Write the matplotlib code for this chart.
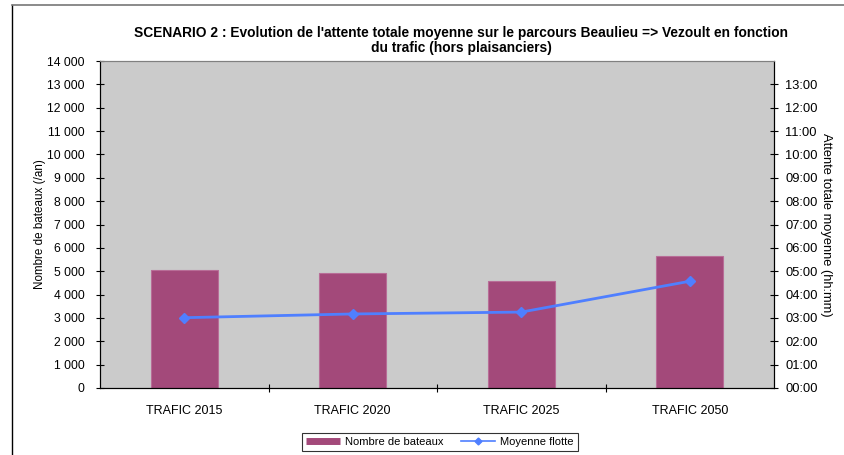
import matplotlib
matplotlib.use("Agg")
import matplotlib.pyplot as plt
from matplotlib.ticker import FuncFormatter, MultipleLocator
from matplotlib.lines import Line2D

plt.rcParams['font.family'] = ['Liberation Sans', 'DejaVu Sans']

# données
categories = ["TRAFIC 2015", "TRAFIC 2020", "TRAFIC 2025", "TRAFIC 2050"]
nb_bateaux = [5050, 4910, 4590, 5640]
attente_h = [3.01, 3.17, 3.25, 4.57]  # heures

bar_color = "#A3497A"
line_color = "#4F7FFF"

fig = plt.figure(figsize=(8.45, 4.55), dpi=100)
ax = fig.add_axes([100 / 845, 67 / 455, 674 / 845, 327 / 455])
ax.set_facecolor("#CBCBCB")

x = list(range(len(categories)))
ax.bar(x, nb_bateaux, width=0.4, color=bar_color, edgecolor="#B86D97", linewidth=0.8,
       zorder=2, label="Nombre de bateaux")
ax.set_xlim(-0.5, len(categories) - 0.5)
ax.set_ylim(0, 14000)
ax.yaxis.set_major_locator(MultipleLocator(1000))
ax.yaxis.set_major_formatter(FuncFormatter(lambda v, p: f"{int(v):,}".replace(",", " ")))
ax.set_xticks(x)
ax.set_xticklabels(categories, fontsize=9)
ax.set_xticks([i + 0.5 for i in x[:-1]], minor=True)
ax.tick_params(axis="x", which="major", length=0, pad=12)
ax.tick_params(axis="x", which="minor", direction="inout", length=6, width=0.8)
ax.tick_params(axis="y", direction="inout", length=6, width=0.8, labelsize=8.7, pad=8)
ax.set_ylabel("Nombre de bateaux (/an)", fontsize=8.4, labelpad=1)

ax2 = ax.twinx()
ax2.plot(x, attente_h, color=line_color, linewidth=2, marker="D", markersize=5,
         zorder=3, label="Moyenne flotte")
ax2.set_ylim(0, 14)
ax2.set_yticks(range(0, 14))
ax2.yaxis.set_major_formatter(FuncFormatter(lambda v, p: f"{int(v):02d}:00"))
ax2.tick_params(axis="y", direction="inout", length=6, width=0.8, labelsize=9.3, pad=5)
ax2.set_ylabel("Attente totale moyenne (hh:mm)", fontsize=9.3, rotation=-90, labelpad=10)

for a in (ax, ax2):
    a.spines["top"].set_color("#808080")
    a.spines["left"].set_color("black")
    a.spines["right"].set_color("black")
    a.spines["bottom"].set_color("black")

fig.text(461 / 845, 1 - 33 / 455,
         "SCENARIO 2 : Evolution de l'attente totale moyenne sur le parcours Beaulieu => Vezoult en fonction",
         ha="center", va="center", fontsize=9.9, fontweight="bold")
fig.text(461 / 845, 1 - 48 / 455, "du trafic (hors plaisanciers)",
         ha="center", va="center", fontsize=9.9, fontweight="bold")

handles = [Line2D([0], [0], color=bar_color, linewidth=5, solid_capstyle="butt"),
           Line2D([0], [0], color=line_color, linewidth=1.2, marker="D", markersize=3.5)]
leg = fig.legend(handles, ["Nombre de bateaux", "Moyenne flotte"], loc="center",
                 bbox_to_anchor=(440 / 845, 1 - 442 / 455), ncol=2, fontsize=8,
                 frameon=True, fancybox=False, edgecolor="black", handlelength=3.0,
                 columnspacing=1.6, borderpad=0.35, handletextpad=0.5)
leg.get_frame().set_linewidth(0.8)

# cadre du graphique
fig.add_artist(Line2D([12 / 845, 12 / 845], [0, 1 - 5 / 455], color="black", linewidth=1,
                      transform=fig.transFigure))
fig.add_artist(Line2D([12 / 845, 1], [1 - 5 / 455, 1 - 5 / 455], color="#777777", linewidth=1.2,
                      transform=fig.transFigure))

fig.savefig("out.png", dpi=100)
